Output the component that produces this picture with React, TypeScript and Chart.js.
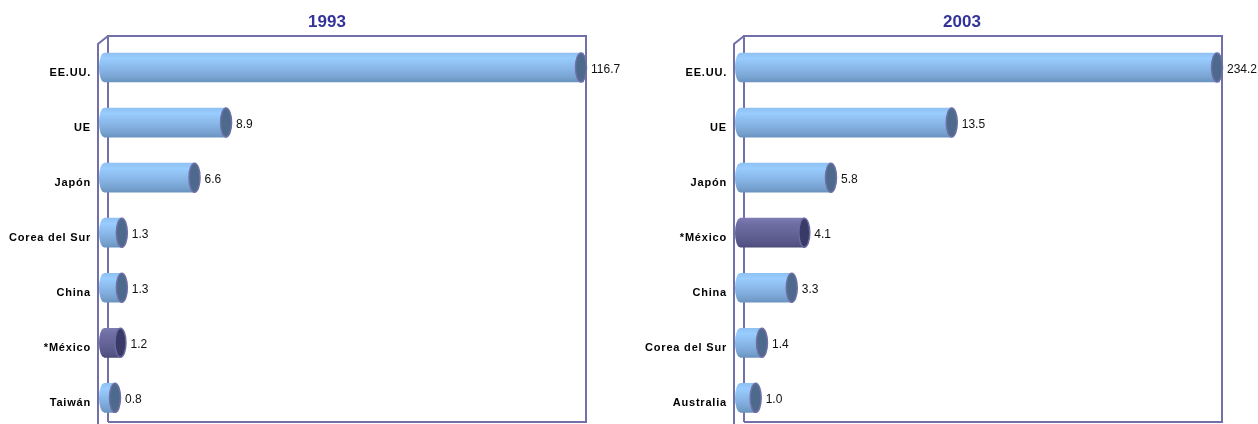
import React, { useEffect, useRef } from "react";
import { Chart, registerables } from "chart.js";

Chart.register(...registerables);

// ---- data ----
const categories1993 = ["EE.UU.", "UE", "Japón", "Corea del Sur", "China", "*México", "Taiwán"];
const values1993 = [116.7, 8.9, 6.6, 1.3, 1.3, 1.2, 0.8];
const categories2003 = ["EE.UU.", "UE", "Japón", "*México", "China", "Corea del Sur", "Australia"];
const values2003 = [234.2, 13.5, 5.8, 4.1, 3.3, 1.4, 1.0];
const title1993 = "1993";
const title2003 = "2003";
const highlightCategory = "*México";

const FONT = 'Arial, "Liberation Sans", Helvetica, sans-serif';
const LINE = "#7170A8";
const THICK = 29;
const CANVAS_H = 445;

type Panel = {
  title: string;
  labels: string[];
  values: number[];
  originX: number;
  rightPad: number;
  max: number;
  titleX: number;
  labelPad: number;
};

const panels: Panel[] = [
  { title: title1993, labels: categories1993, values: values1993, originX: 104, rightPad: 45, max: 35, titleX: 327, labelPad: 13 },
  { title: title2003, labels: categories2003, values: values2003, originX: 111, rightPad: 38, max: 30.6, titleX: 333, labelPad: 13 },
];

function bodyGradient(ctx: CanvasRenderingContext2D, cy: number, purple: boolean): any {
  if (!isFinite(cy)) return purple ? "#666699" : "#8AB9EA";
  const g = ctx.createLinearGradient(0, cy - THICK / 2, 0, cy + THICK / 2);
  if (purple) {
    g.addColorStop(0, "#7C7CB2");
    g.addColorStop(0.2, "#6E6EA4");
    g.addColorStop(0.55, "#636396");
    g.addColorStop(0.9, "#545486");
    g.addColorStop(1, "#4A4A7A");
  } else {
    g.addColorStop(0, "#8FC2F2");
    g.addColorStop(0.18, "#99CCFF");
    g.addColorStop(0.5, "#8AB9EA");
    g.addColorStop(0.85, "#77A2D0");
    g.addColorStop(1, "#6A93C0");
  }
  return g;
}

function makeConfig(p: Panel): any {
  const decor = {
    id: "decor" + p.title,
    beforeDraw(chart: any) {
      (chart.ctx as any).letterSpacing = "0.8px";
    },
    beforeDatasetsDraw(chart: any) {
      const ctx = chart.ctx as CanvasRenderingContext2D;
      (ctx as any).letterSpacing = "0px";
      const a = chart.chartArea;
      const x0 = chart.scales.x.getPixelForValue(0);
      const back = x0 + 4;
      const front = x0 - 6;
      const right = a.right + 2;
      ctx.save();
      ctx.strokeStyle = LINE;
      ctx.lineWidth = 2;
      ctx.beginPath();
      ctx.moveTo(back, 422);
      ctx.lineTo(back, 36);
      ctx.lineTo(right, 36);
      ctx.lineTo(right, 422);
      ctx.lineTo(back, 422);
      ctx.stroke();
      ctx.beginPath();
      ctx.moveTo(front, 430);
      ctx.lineTo(front, 44);
      ctx.lineTo(back, 36);
      ctx.stroke();
      ctx.fillStyle = "#333399";
      ctx.font = `bold 17px ${FONT}`;
      ctx.textAlign = "center";
      ctx.textBaseline = "middle";
      ctx.fillText(p.title, p.titleX, 22);
      ctx.restore();
    },
    afterDatasetsDraw(chart: any) {
      const ctx = chart.ctx as CanvasRenderingContext2D;
      const a = chart.chartArea;
      const meta = chart.getDatasetMeta(0);
      const x0 = chart.scales.x.getPixelForValue(0);
      ctx.save();
      (ctx as any).letterSpacing = "0px";
      meta.data.forEach((el: any, i: number) => {
        const purple = p.labels[i] === highlightCategory;
        const cy = el.y;
        ctx.beginPath();
        ctx.ellipse(x0, cy, 5, THICK / 2, 0, Math.PI / 2, (3 * Math.PI) / 2);
        ctx.closePath();
        ctx.fillStyle = bodyGradient(ctx, cy, purple);
        ctx.fill();
        const capX = Math.min(el.x, a.right - 3);
        ctx.beginPath();
        ctx.ellipse(capX, cy, 5.5, THICK / 2, 0, 0, Math.PI * 2);
        ctx.fillStyle = purple ? "#3A3A68" : "#4D6A8C";
        ctx.fill();
        ctx.lineWidth = 1.5;
        ctx.strokeStyle = purple ? "#6A6AA0" : "#6F70A8";
        ctx.stroke();
        ctx.fillStyle = "#111";
        ctx.font = `12px ${FONT}`;
        ctx.textAlign = "left";
        ctx.textBaseline = "middle";
        ctx.fillText(p.values[i].toFixed(1), capX + 10, cy + 2);
      });
      ctx.restore();
    },
  };

  return {
    type: "bar",
    data: {
      labels: p.labels,
      datasets: [
        {
          data: p.values,
          clip: 0,
          barThickness: THICK,
          borderWidth: 0,
          backgroundColor: (c: any) => {
            const chart = c.chart;
            const y = chart && chart.scales && chart.scales.y;
            const purple = p.labels[c.dataIndex] === highlightCategory;
            if (!y || c.dataIndex === undefined || !chart.chartArea) return purple ? "#666699" : "#8AB9EA";
            const cy = y.getPixelForValue(c.dataIndex);
            return bodyGradient(chart.ctx, cy, purple);
          },
        },
      ],
    },
    options: {
      indexAxis: "y",
      responsive: false,
      animation: false,
      layout: { padding: { top: 40, bottom: 0, left: 0, right: p.rightPad } },
      plugins: { legend: { display: false }, tooltip: { enabled: false }, title: { display: false } },
      scales: {
        x: { display: false, min: 0, max: p.max },
        y: {
          grid: { display: false, drawTicks: false },
          border: { display: false },
          ticks: {
            color: "#000",
            autoSkip: false,
            padding: p.labelPad,
            labelOffset: 5,
            font: { family: FONT, size: 11, weight: "bold" },
          },
          afterFit: (s: any) => {
            s.width = p.originX;
          },
        },
      },
    },
    plugins: [decor],
  };
}

function PanelChart({ panel, left }: { panel: Panel; left: number }) {
  const ref = useRef<HTMLCanvasElement | null>(null);
  useEffect(() => {
    if (!ref.current) return;
    const chart = new Chart(ref.current, makeConfig(panel));
    return () => chart.destroy();
  }, [panel]);
  return (
    <canvas
      ref={ref}
      width={629}
      height={CANVAS_H}
      style={{ position: "absolute", left, top: 0, width: 629, height: CANVAS_H }}
    />
  );
}

export default function App() {
  useEffect(() => {
    document.body.style.margin = "0";
    document.body.style.overflow = "hidden";
  }, []);
  return (
    <div style={{ position: "absolute", left: 0, top: 0, width: 1258, height: 424, background: "#fff", overflow: "hidden" }}>
      <PanelChart panel={panels[0]} left={0} />
      <PanelChart panel={panels[1]} left={629} />
    </div>
  );
}
